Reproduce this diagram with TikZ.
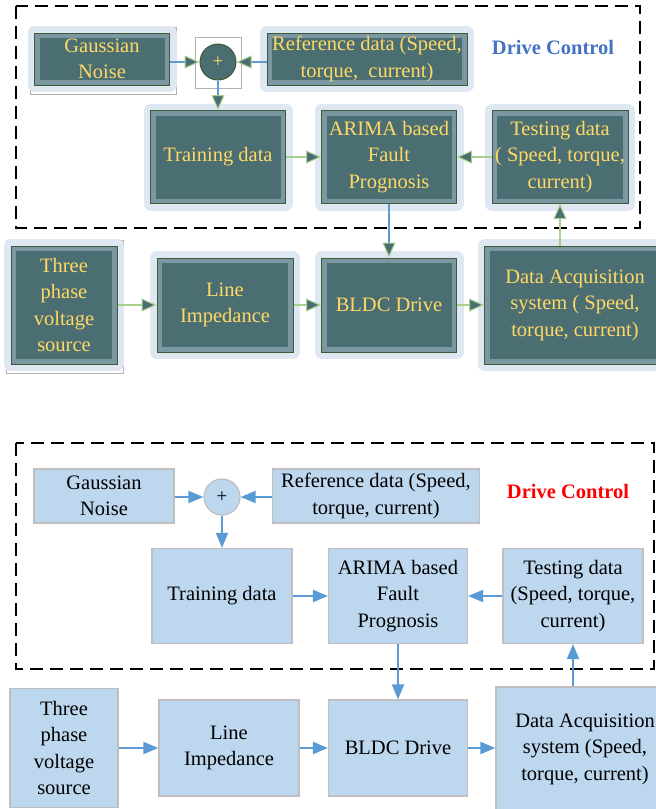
\documentclass[tikz,border=0pt]{standalone}
\usepackage{fontspec}
\setmainfont{Liberation Serif}
\usetikzlibrary{arrows.meta}
\definecolor{glowc}{HTML}{DFE7F3}
\definecolor{bandc}{HTML}{7B97A1}
\definecolor{tealc}{HTML}{4B6E72}
\definecolor{dkgreen}{HTML}{3D5B35}
\definecolor{ltgreen}{HTML}{A9D18E}
\definecolor{yel}{HTML}{FFD966}
\definecolor{bluel}{HTML}{5B9BD5}
\definecolor{boxblue}{HTML}{BDD7EE}
\definecolor{boxgray}{HTML}{BFBFBF}
\definecolor{dcblue}{HTML}{4472C4}
\begin{document}
\begin{tikzpicture}[x=1pt,y=-1pt,
 txt/.style={font=\fontsize{20.5}{26.5}\selectfont, align=center, inner sep=0pt},
 darkbox/.style={txt, text=yel, fill=bandc, draw=dkgreen, line width=1pt,
   preaction={draw=glowc, fill=glowc, line width=14pt, line join=round},
   path picture={\fill[tealc] ([shift={(5pt,5pt)}]path picture bounding box.south west) rectangle ([shift={(-5pt,-5pt)}]path picture bounding box.north east);}},
 lightbox/.style={txt, text=black, fill=boxblue, draw=boxgray, line width=1.2pt},
 sz/.style 2 args={minimum width=#1, minimum height=#2},
 tarr/.style={draw=#1, line width=2pt, -{Triangle[length=15pt,width=13pt,fill=tealc,color=ltgreen,line width=1pt]}},
 barr/.style={draw=bluel, line width=2pt, -{Triangle[length=15pt,width=12pt,fill=bluel]}},
 artifact/.style={draw=gray!60, line width=0.7pt},
 region/.style={draw=black, dashed, dash pattern=on 13pt off 7pt},
 title/.style={font=\fontsize{20.5}{26}\selectfont\bfseries, inner sep=0pt}]
\useasboundingbox (0,0) rectangle (656,809);

% ---------- top (dark) diagram ----------
\draw[region, line width=2.6pt] (16,6) rectangle (640,228);
\draw[artifact] (30,27) rectangle (176,94);
\draw[artifact] (6,240) rectangle (123,373);

\node[darkbox, sz={135}{52}] (tgn) at (102,59) {Gaussian\\Noise};
\node[darkbox, sz={200}{52}] (tref) at (367,59) {Reference data (Speed,\\torque,\ \ current)};
\node[title, text=dcblue] (tdc) at (553,47) {Drive Control};
\node[darkbox, sz={135}{93}] (ttrain) at (218,157) {Training data};
\node[darkbox, sz={135}{93}] (tarima) at (389,157) {ARIMA based\\Fault\\Prognosis};
\node[darkbox, sz={136}{93}] (ttest) at (560,157) {Testing data\\( Speed, torque,\\current)};
\node[darkbox, sz={106}{118}] (tthree) at (64,305) {Three\\phase\\voltage\\source};
\node[darkbox, sz={136}{94}] (tline) at (225,305) {Line\\Impedance};
\node[darkbox, sz={135}{94}] (tbldc) at (389,305) {BLDC Drive};
\node[darkbox, sz={181}{118}] (tdaq) at (575,305) {Data Acquisition\\system ( Speed,\\torque, current)};
\draw[artifact] (195,37) rectangle (241,88);
\node[circle, minimum size=36pt, inner sep=0pt, fill=tealc, draw=dkgreen, line width=1pt,
      text=yel, font=\fontsize{19}{19}\selectfont] (tsum) at (218,62) {+};

\draw[tarr=bluel] (tgn.east |- tsum.west) -- (tsum.west);
\draw[tarr=bluel] (tref.west |- tsum.east) -- (tsum.east);
\draw[tarr=bluel] (tsum.south) -- (tsum.south |- ttrain.north);
\draw[tarr=ltgreen] (ttrain.east) -- (tarima.west);
\draw[tarr=ltgreen] (ttest.west) -- (tarima.east);
\draw[tarr=bluel] (tarima.south) -- (tbldc.north);
\draw[tarr=ltgreen] (ttest.south |- tdaq.north) -- (ttest.south);
\draw[tarr=ltgreen] (tthree.east) -- (tline.west);
\draw[tarr=ltgreen] (tline.east) -- (tbldc.west);
\draw[tarr=ltgreen] (tbldc.east) -- (tdaq.west |- tbldc.east);

% ---------- bottom (light) diagram ----------
\draw[region, line width=1.6pt] (16,443) rectangle (654,669);

\node[lightbox, sz={140}{54}] (bgn) at (104,496) {Gaussian\\Noise};
\node[circle, minimum size=36pt, inner sep=0pt, fill=boxblue, draw=boxgray, line width=1.2pt,
      font=\fontsize{19}{19}\selectfont] (bsum) at (222,497) {+};
\node[lightbox, sz={207}{54}] (bref) at (376,496) {Reference data (Speed,\\torque, current)};
\node[title, text=red] (bdc) at (568,491) {Drive Control};
\node[lightbox, sz={140}{95}] (btrain) at (222,596) {Training data};
\node[lightbox, sz={139}{95}] (barima) at (398,596) {ARIMA based\\Fault\\Prognosis};
\node[lightbox, sz={140}{95}] (btest) at (573,596) {Testing data\\(Speed, torque,\\current)};
\node[lightbox, sz={108}{119}] (bthree) at (64,748) {Three\\phase\\voltage\\source};
\node[lightbox, sz={140}{96}] (bline) at (229,748) {Line\\Impedance};
\node[lightbox, sz={139}{96}] (bbldc) at (398,748) {BLDC Drive};
\node[lightbox, sz={178}{124}] (bdaq) at (585,749) {Data Acquisition\\system (Speed,\\torque, current)};

\draw[barr] (bgn.east |- bsum.west) -- (bsum.west);
\draw[barr] (bref.west |- bsum.east) -- (bsum.east);
\draw[barr] (bsum.south) -- (bsum.south |- btrain.north);
\draw[barr] (btrain.east) -- (barima.west);
\draw[barr] (btest.west) -- (barima.east);
\draw[barr] (barima.south) -- (bbldc.north);
\draw[barr] (btest.south |- bdaq.north) -- (btest.south);
\draw[barr] (bthree.east |- bline.west) -- (bline.west);
\draw[barr] (bline.east) -- (bbldc.west);
\draw[barr] (bbldc.east) -- (bdaq.west |- bbldc.east);
\end{tikzpicture}
\end{document}
